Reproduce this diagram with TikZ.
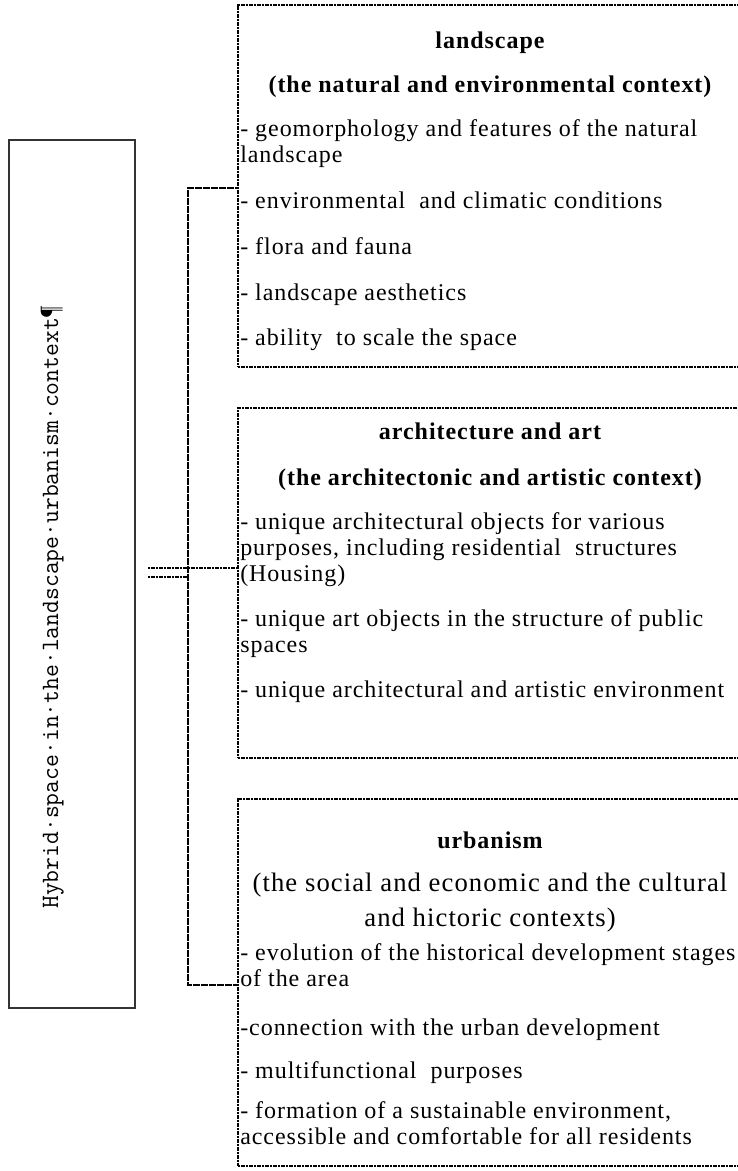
\documentclass[tikz,border=0pt]{standalone}
\usepackage{fontspec}
\setmainfont{Liberation Serif}[LetterSpace=4]
\usetikzlibrary{positioning}

\newcommand{\itemsize}{\fontsize{18}{19.5}\selectfont}

\begin{document}
\begin{tikzpicture}[
        x=0.75pt, y=-0.75pt,
        ctxbox/.style={rectangle, draw=black, line width=1.6pt, dash pattern=on 1.6pt off 0.4pt, minimum width=378pt, inner sep=0pt},
        sidebox/.style={rectangle, draw=black!80, line width=1pt, minimum width=94.5pt, minimum height=651pt, inner sep=0pt},
        head/.style={font=\itemsize\bfseries, inner sep=0pt, anchor=base},
        item/.style={font=\itemsize, inner sep=0pt, anchor=base west},
        link/.style={draw=black, line width=1.6pt, dash pattern=on 1.6pt off 0.4pt}
    ]
        \useasboundingbox (0,0) rectangle (738,1171);

        % Side label
        \node[sidebox] (hybrid) at (72,574) {};
        \node[rotate=90, anchor=base, inner sep=0pt, font=\ttfamily\fontsize{18.7}{20}\selectfont] (hybtext) at (58,607) {Hybrid·space·in·the·landscape·urbanism·context¶};

        % Context boxes
        \node[ctxbox, minimum height=271.5pt] (land) at (490,186) {};
        \node[ctxbox, minimum height=262.5pt] (arch) at (490,583) {};
        \node[ctxbox, minimum height=275.25pt] (urb) at (490,982.5) {};

        % Landscape
        \node[head] (landhead) at (490,48) {landscape};
        \node[head] (landsub) at (490,92) {(the natural and environmental context)};
        \foreach \y/\txt [count=\i] in {136/{- geomorphology and features of the natural}, 162/{landscape},
            208/{- environmental\ \ and climatic conditions}, 254/{- flora and fauna},
            300/{- landscape aesthetics}, 345/{- ability\ \ to scale the space}}
            \node[item] (land\i) at (240,\y) {\txt};

        % Architecture and art
        \node[head] (archhead) at (490,439) {architecture and art};
        \node[head] (archsub) at (490,485) {(the architectonic and artistic context)};
        \foreach \y/\txt [count=\i] in {529/{- unique architectural objects for various},
            555/{purposes, including residential\ \ structures}, 581/{(Housing)},
            626/{- unique art objects in the structure of public}, 652/{spaces},
            697/{- unique architectural and artistic environment}}
            \node[item] (arch\i) at (240,\y) {\txt};

        % Urbanism
        \node[head] (urbhead) at (490,848) {urbanism};
        \node[head, font=\fontsize{20}{26}\selectfont, align=center, anchor=north] (urbsub) at (490,873) {(the social and economic and the cultural\\and hictoric contexts)};
        \foreach \y/\txt [count=\i] in {960/{- evolution of the historical development stages}, 986/{of the area},
            1035/{-connection with the urban development}, 1078/{- multifunctional\ \ purposes},
            1118/{- formation of a sustainable environment,}, 1144/{accessible and comfortable for all residents}}
            \node[item] (urb\i) at (240,\y) {\txt};

        % Bracket
        \coordinate (jtop) at (188,188);
        \coordinate (jbot) at (188,985);
        \coordinate (jmid) at (148,568);
        \coordinate (jlow) at (148,577);
        \draw[link] (jtop -| land.west) -- (jtop) -- (jbot) -- (jbot -| urb.west);
        \draw[link] (jmid) -- (jmid -| arch.west);
        \draw[link] (jlow) -- (jlow -| jtop);
    \end{tikzpicture}
\end{document}
